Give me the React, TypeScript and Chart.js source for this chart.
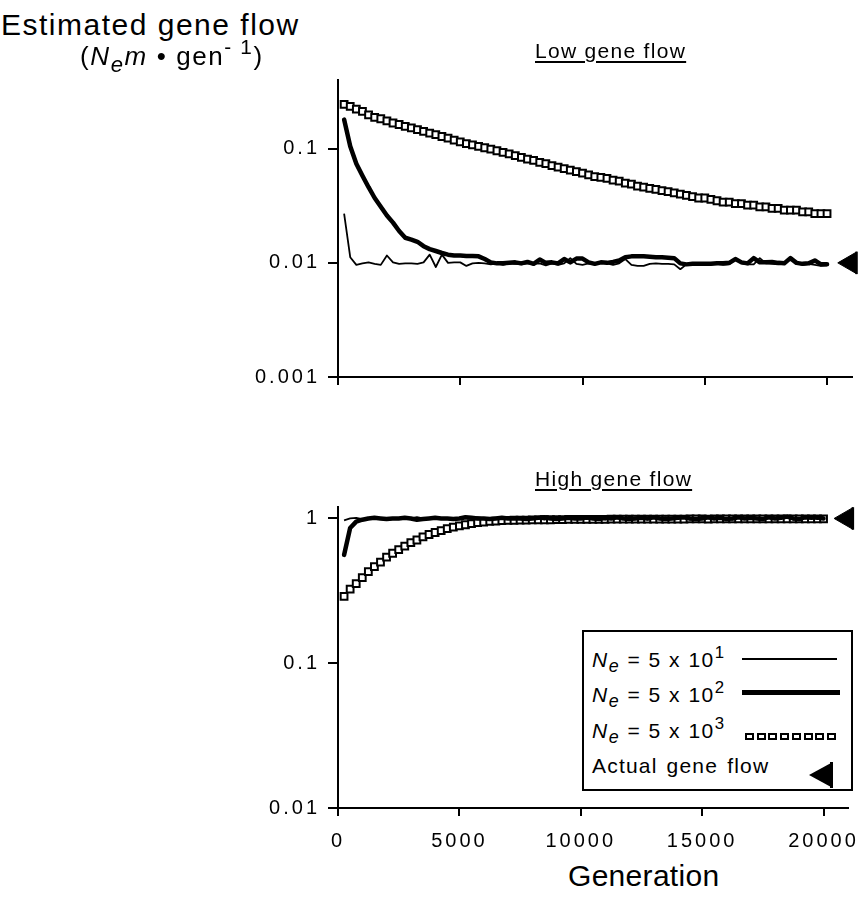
import React, { useEffect, useRef } from 'react';
import { Chart, registerables } from 'chart.js';

Chart.register(...registerables);

// ---------- data ----------
const GEN = [
  250, 500, 750, 1000, 1250, 1500, 1750, 2000, 2250, 2500,
  2750, 3000, 3250, 3500, 3750, 4000, 4250, 4500, 4750, 5000,
  5250, 5500, 5750, 6000, 6250, 6500, 6750, 7000, 7250, 7500,
  7750, 8000, 8250, 8500, 8750, 9000, 9250, 9500, 9750, 10000,
  10250, 10500, 10750, 11000, 11250, 11500, 11750, 12000, 12250, 12500,
  12750, 13000, 13250, 13500, 13750, 14000, 14250, 14500, 14750, 15000,
  15250, 15500, 15750, 16000, 16250, 16500, 16750, 17000, 17250, 17500,
  17750, 18000, 18250, 18500, 18750, 19000, 19250, 19500, 19750, 20000,
];

// Low gene flow panel
const LOW_NE50 = [
  0.027, 0.0112, 0.0096, 0.0099, 0.0101, 0.0098, 0.0096, 0.0116, 0.0101, 0.0098,
  0.0099, 0.0099, 0.0098, 0.0101, 0.0118, 0.0092, 0.0118, 0.01, 0.0101, 0.0101,
  0.0094, 0.0099, 0.01, 0.0099, 0.0097, 0.0099, 0.0096, 0.0099, 0.0098, 0.0097,
  0.0099, 0.0098, 0.0099, 0.0095, 0.0099, 0.0096, 0.0099, 0.011, 0.0098, 0.0096,
  0.0099, 0.0098, 0.01, 0.0099, 0.0096, 0.0099, 0.0108, 0.0096, 0.0094, 0.0094,
  0.0098, 0.0099, 0.0098, 0.0098, 0.0097, 0.0088, 0.0097, 0.0097, 0.0098, 0.0097,
  0.0097, 0.0098, 0.0096, 0.0097, 0.0107, 0.0099, 0.0097, 0.0097, 0.011, 0.0099,
  0.0098, 0.0097, 0.0098, 0.011, 0.0099, 0.0096, 0.0098, 0.0096, 0.0094, 0.0095,
];
const LOW_NE500 = [
  0.18, 0.105, 0.074, 0.058, 0.046, 0.037, 0.031, 0.026, 0.0225, 0.019,
  0.0166, 0.016, 0.0153, 0.014, 0.0132, 0.0127, 0.0122, 0.0118, 0.0116, 0.0116,
  0.0115, 0.0115, 0.0114, 0.0108, 0.0101, 0.0099, 0.0099, 0.01, 0.0101, 0.0099,
  0.0102, 0.0098, 0.0107, 0.01, 0.0101, 0.0099, 0.0108, 0.0101, 0.0109, 0.0109,
  0.0101, 0.0098, 0.0101, 0.01, 0.0102, 0.0105, 0.0112, 0.0114, 0.0114, 0.0114,
  0.0113, 0.0112, 0.0112, 0.0111, 0.011, 0.0099, 0.0097, 0.0098, 0.0098, 0.0098,
  0.0098, 0.0099, 0.0099, 0.01, 0.0108, 0.0101, 0.0099, 0.011, 0.0101, 0.0101,
  0.0102, 0.01, 0.0099, 0.011, 0.01, 0.0098, 0.0099, 0.0105, 0.0097, 0.0097,
];
const LOW_NE5000 = [
  0.245, 0.235, 0.222, 0.212, 0.198, 0.188, 0.183, 0.175, 0.168, 0.163,
  0.157, 0.152, 0.147, 0.142, 0.137, 0.133, 0.128, 0.124, 0.119, 0.115,
  0.111, 0.108, 0.105, 0.102, 0.099, 0.096, 0.093, 0.09, 0.087, 0.084,
  0.081, 0.079, 0.076, 0.074, 0.071, 0.069, 0.067, 0.065, 0.063, 0.061,
  0.059, 0.057, 0.056, 0.055, 0.053, 0.052, 0.05, 0.049, 0.047, 0.046,
  0.045, 0.044, 0.043, 0.042, 0.041, 0.04, 0.039, 0.038, 0.037, 0.037,
  0.036, 0.035, 0.034, 0.034, 0.033, 0.033, 0.032, 0.032, 0.031, 0.031,
  0.03, 0.03, 0.029, 0.029, 0.029, 0.028, 0.028, 0.027, 0.027, 0.027,
];

// High gene flow panel
const HIGH_NE50 = [
  0.97, 1.0, 1.01, 0.99, 1.0, 1.02, 1.0, 0.99, 1.01, 1.0,
  0.99, 1.0, 1.02, 1.0, 0.99, 1.0, 1.01, 1.0, 1.0, 0.99,
  1.01, 1.0, 1.02, 1.0, 0.99, 1.0, 1.0, 1.01, 0.99, 1.0,
  1.0, 1.02, 1.0, 0.98, 1.0, 1.01, 1.0, 0.99, 1.03, 1.0,
  0.99, 1.01, 1.0, 0.98, 1.02, 1.0, 0.99, 1.03, 1.0, 1.0,
  0.98, 1.01, 1.0, 1.02, 0.99, 1.0, 1.01, 0.98, 1.0, 1.03,
  1.0, 0.99, 1.0, 1.01, 0.98, 1.02, 1.0, 0.99, 1.01, 1.0,
  1.03, 0.99, 1.0, 1.02, 0.98, 1.01, 1.0, 1.03, 0.99, 1.0,
];
const HIGH_NE500 = [
  0.56, 0.86, 0.95, 0.98, 1.0, 1.01, 1.0, 0.99, 1.0, 1.0,
  1.01, 1.0, 0.98, 0.99, 1.0, 1.01, 1.0, 1.0, 0.99, 1.0,
  1.02, 1.01, 1.0, 1.0, 0.99, 1.0, 1.01, 1.0, 1.0, 1.0,
  0.99, 1.0, 1.01, 1.02, 1.0, 0.99, 1.0, 1.01, 1.0, 1.0,
  1.02, 1.0, 0.99, 1.01, 1.0, 1.02, 1.0, 0.99, 1.0, 1.01,
  1.0, 1.02, 1.0, 0.99, 1.0, 1.01, 1.02, 1.0, 0.99, 1.0,
  1.02, 1.0, 1.01, 0.99, 1.0, 1.02, 1.0, 1.01, 1.0, 0.99,
  1.02, 1.0, 1.01, 1.03, 1.0, 0.99, 1.02, 1.01, 1.02, 1.0,
];
const HIGH_NE5000 = [
  0.29, 0.325, 0.355, 0.39, 0.43, 0.465, 0.5, 0.54, 0.575, 0.61,
  0.645, 0.68, 0.71, 0.745, 0.775, 0.8, 0.825, 0.85, 0.87, 0.89,
  0.905, 0.92, 0.935, 0.945, 0.955, 0.96, 0.965, 0.97, 0.972, 0.975,
  0.975, 0.977, 0.978, 0.98, 0.98, 0.982, 0.983, 0.984, 0.985, 0.985,
  0.986, 0.986, 0.987, 0.987, 0.988, 0.988, 0.988, 0.989, 0.989, 0.99,
  0.99, 0.99, 0.99, 0.991, 0.991, 0.991, 0.99, 0.992, 0.992, 0.992,
  0.991, 0.993, 0.993, 0.992, 0.993, 0.993, 0.994, 0.993, 0.994, 0.994,
  0.993, 0.994, 0.995, 0.994, 0.995, 0.995, 0.994, 0.995, 0.995, 0.995,
];

const X_TICKS = [0, 5000, 10000, 15000, 20000];
const LOW_Y_TICKS = [0.001, 0.01, 0.1];
const HIGH_Y_TICKS = [0.01, 0.1, 1];
const ACTUAL_X = 20950;
const ACTUAL_LOW = 0.01;
const ACTUAL_HIGH = 1;

// ---------- styling ----------
const FONT = "'Liberation Sans', Arial, Helvetica, sans-serif";
const W = 865;

const spacingPlugin = {
  id: 'spacing',
  beforeDraw(chart: any) {
    chart.ctx.letterSpacing = '3px';
  },
};

const barPlugin = {
  id: 'actualBar',
  afterDatasetsDraw(chart: any) {
    const meta = chart.getDatasetMeta(3);
    const ctx = chart.ctx;
    meta.data.forEach((el: any) => {
      const r = 12.5;
      ctx.save();
      ctx.strokeStyle = '#000';
      ctx.lineWidth = 2.5;
      ctx.beginPath();
      ctx.moveTo(el.x + r / 2, el.y - r * 0.9);
      ctx.lineTo(el.x + r / 2, el.y + r * 0.9);
      ctx.stroke();
      ctx.restore();
    });
  },
};

function pts(ys: number[]) {
  return GEN.map((g, i) => ({ x: g, y: ys[i] }));
}

type PanelProps = {
  top: number;
  height: number;
  xAxisHeight: number;
  showX: boolean;
  yMin: number;
  yMax: number;
  yTicks: number[];
  ne50: number[];
  ne500: number[];
  ne5000: number[];
  actual: number;
};

function Panel(p: PanelProps) {
  const ref = useRef<HTMLCanvasElement>(null);
  useEffect(() => {
    const tickFont = { family: FONT, size: 20 };
    const chart = new Chart(ref.current as HTMLCanvasElement, {
      type: 'line',
      data: {
        datasets: [
          {
            data: pts(p.ne50),
            borderColor: '#000',
            borderWidth: 1.8,
            pointRadius: 0,
            tension: 0,
            borderJoinStyle: 'round',
          } as any,
          {
            data: pts(p.ne500),
            borderColor: '#000',
            borderWidth: 4.5,
            pointRadius: 0,
            tension: 0,
            borderJoinStyle: 'round',
            borderCapStyle: 'round',
          },
          {
            data: pts(p.ne5000),
            showLine: false,
            pointStyle: 'rect',
            pointRadius: 4.8,
            pointBorderWidth: 2,
            pointBackgroundColor: '#fff',
            pointBorderColor: '#000',
          },
          {
            data: [{ x: ACTUAL_X, y: p.actual }],
            showLine: false,
            pointStyle: 'triangle',
            pointRotation: 270,
            pointRadius: 12.5,
            pointBorderWidth: 1,
            pointBackgroundColor: '#000',
            pointBorderColor: '#000',
            clip: false,
          },
        ],
      },
      options: {
        responsive: false,
        maintainAspectRatio: false,
        animation: false,
        events: [],
        layout: { padding: { left: 0, right: 12.5, top: 10, bottom: 0 } },
        plugins: { legend: { display: false }, tooltip: { enabled: false } },
        scales: {
          x: {
            type: 'linear',
            min: 0,
            max: 21000,
            afterBuildTicks: (s: any) => {
              s.ticks = X_TICKS.map((v) => ({ value: v }));
            },
            afterFit: (s: any) => {
              s.height = p.xAxisHeight;
            },
            ticks: {
              autoSkip: false,
              maxRotation: 0,
              padding: 13,
              font: tickFont,
              color: '#000',
              callback: (v: any) => (p.showX ? String(v) : ''),
            },
            grid: {
              drawOnChartArea: false,
              drawTicks: true,
              tickLength: 8,
              color: '#000',
              lineWidth: 2,
            },
            border: { display: true, color: '#000', width: 2 },
          },
          y: {
            type: 'logarithmic',
            min: p.yMin,
            max: p.yMax,
            afterBuildTicks: (s: any) => {
              s.ticks = p.yTicks.map((v) => ({ value: v }));
            },
            afterFit: (s: any) => {
              s.width = 338;
            },
            ticks: {
              autoSkip: false,
              padding: 8,
              font: tickFont,
              color: '#000',
              callback: (v: any) => String(v),
            },
            grid: {
              drawOnChartArea: false,
              drawTicks: true,
              tickLength: 10,
              color: '#000',
              lineWidth: 2,
            },
            border: { display: true, color: '#000', width: 2 },
          },
        },
      } as any,
      plugins: [spacingPlugin, barPlugin],
    });
    return () => chart.destroy();
  }, []);
  return (
    <canvas
      ref={ref}
      width={W}
      height={p.height}
      style={{ position: 'absolute', left: 0, top: p.top, width: W, height: p.height }}
    />
  );
}

const txt = (left: number, top: number, size: number, extra: React.CSSProperties = {}): React.CSSProperties => ({
  position: 'absolute',
  left,
  top,
  fontSize: size,
  lineHeight: 1,
  whiteSpace: 'nowrap',
  fontFamily: FONT,
  color: '#000',
  ...extra,
});

const Sub = ({ children }: { children: React.ReactNode }) => (
  <span style={{ fontSize: '0.85em', position: 'relative', top: '0.3em' }}>{children}</span>
);
const Sup = ({ children }: { children: React.ReactNode }) => (
  <span style={{ fontSize: '0.8em', position: 'relative', top: '-0.55em' }}>{children}</span>
);

function NeLabel({ exp }: { exp: string }) {
  return (
    <>
      <i>N</i>
      <Sub>
        <i>e</i>
      </Sub>{' '}
      = 5 x 10<Sup>{exp}</Sup>
    </>
  );
}

export default function App() {
  const legendRowTop = [649, 684, 720, 755];
  return (
    <div
      style={{
        position: 'absolute',
        left: 0,
        top: 0,
        width: W,
        height: 916,
        background: '#fff',
        overflow: 'hidden',
      }}
    >
      <Panel
        top={60}
        height={340}
        xAxisHeight={23}
        showX={false}
        yMin={0.001}
        yMax={0.4}
        yTicks={LOW_Y_TICKS}
        ne50={LOW_NE50}
        ne500={LOW_NE500}
        ne5000={LOW_NE5000}
        actual={ACTUAL_LOW}
      />
      <Panel
        top={487}
        height={370}
        xAxisHeight={49}
        showX={true}
        yMin={0.01}
        yMax={1.2}
        yTicks={HIGH_Y_TICKS}
        ne50={HIGH_NE50}
        ne500={HIGH_NE500}
        ne5000={HIGH_NE5000}
        actual={ACTUAL_HIGH}
      />

      <div style={txt(1, 10, 30, { letterSpacing: '1.5px' })}>Estimated gene flow</div>
      <div style={txt(80, 43, 26, { letterSpacing: '1.6px' })}>
        (<i>N</i>
        <Sub>
          <i>e</i>
        </Sub>
        <i>m</i> • gen<Sup>- 1</Sup>)
      </div>

      <div
        style={txt(535, 39.5, 21, {
          letterSpacing: '1.3px',
          textDecoration: 'underline',
          textDecorationThickness: '1.5px',
          textUnderlineOffset: '3px',
        })}
      >
        Low gene flow
      </div>
      <div
        style={txt(535, 467.5, 21, {
          letterSpacing: '1.3px',
          textDecoration: 'underline',
          textDecorationThickness: '1.5px',
          textUnderlineOffset: '3px',
        })}
      >
        High gene flow
      </div>

      <div style={txt(568, 861, 30, { letterSpacing: '0.3px' })}>Generation</div>

      {/* legend */}
      <div
        style={{
          position: 'absolute',
          left: 582,
          top: 630,
          width: 271,
          height: 161,
          border: '2px solid #000',
          boxSizing: 'border-box',
          background: '#fff',
        }}
      />
      <div style={txt(592, legendRowTop[0], 21, { letterSpacing: '1.5px' })}>
        <NeLabel exp="1" />
      </div>
      <div style={txt(592, legendRowTop[1], 21, { letterSpacing: '1.5px' })}>
        <NeLabel exp="2" />
      </div>
      <div style={txt(592, legendRowTop[2], 21, { letterSpacing: '1.5px' })}>
        <NeLabel exp="3" />
      </div>
      <div style={txt(592, legendRowTop[3], 21, { letterSpacing: '1.2px', wordSpacing: '2px' })}>
        Actual gene flow
      </div>
      <div style={{ position: 'absolute', left: 742, top: 658, width: 95, height: 2, background: '#000' }} />
      <div style={{ position: 'absolute', left: 742, top: 689.5, width: 98, height: 5, background: '#000' }} />
      {[0, 1, 2, 3, 4, 5, 6, 7].map((i) => (
        <div
          key={i}
          style={{
            position: 'absolute',
            left: 745 + i * 11.7,
            top: 733,
            width: 9,
            height: 7,
            border: '2px solid #000',
            boxSizing: 'border-box',
            background: '#fff',
          }}
        />
      ))}
      <div
        style={{
          position: 'absolute',
          left: 809,
          top: 763,
          width: 0,
          height: 0,
          borderTop: '12px solid transparent',
          borderBottom: '12px solid transparent',
          borderRight: '22px solid #000',
        }}
      />
      <div style={{ position: 'absolute', left: 830, top: 762, width: 3, height: 26, background: '#000' }} />
    </div>
  );
}
